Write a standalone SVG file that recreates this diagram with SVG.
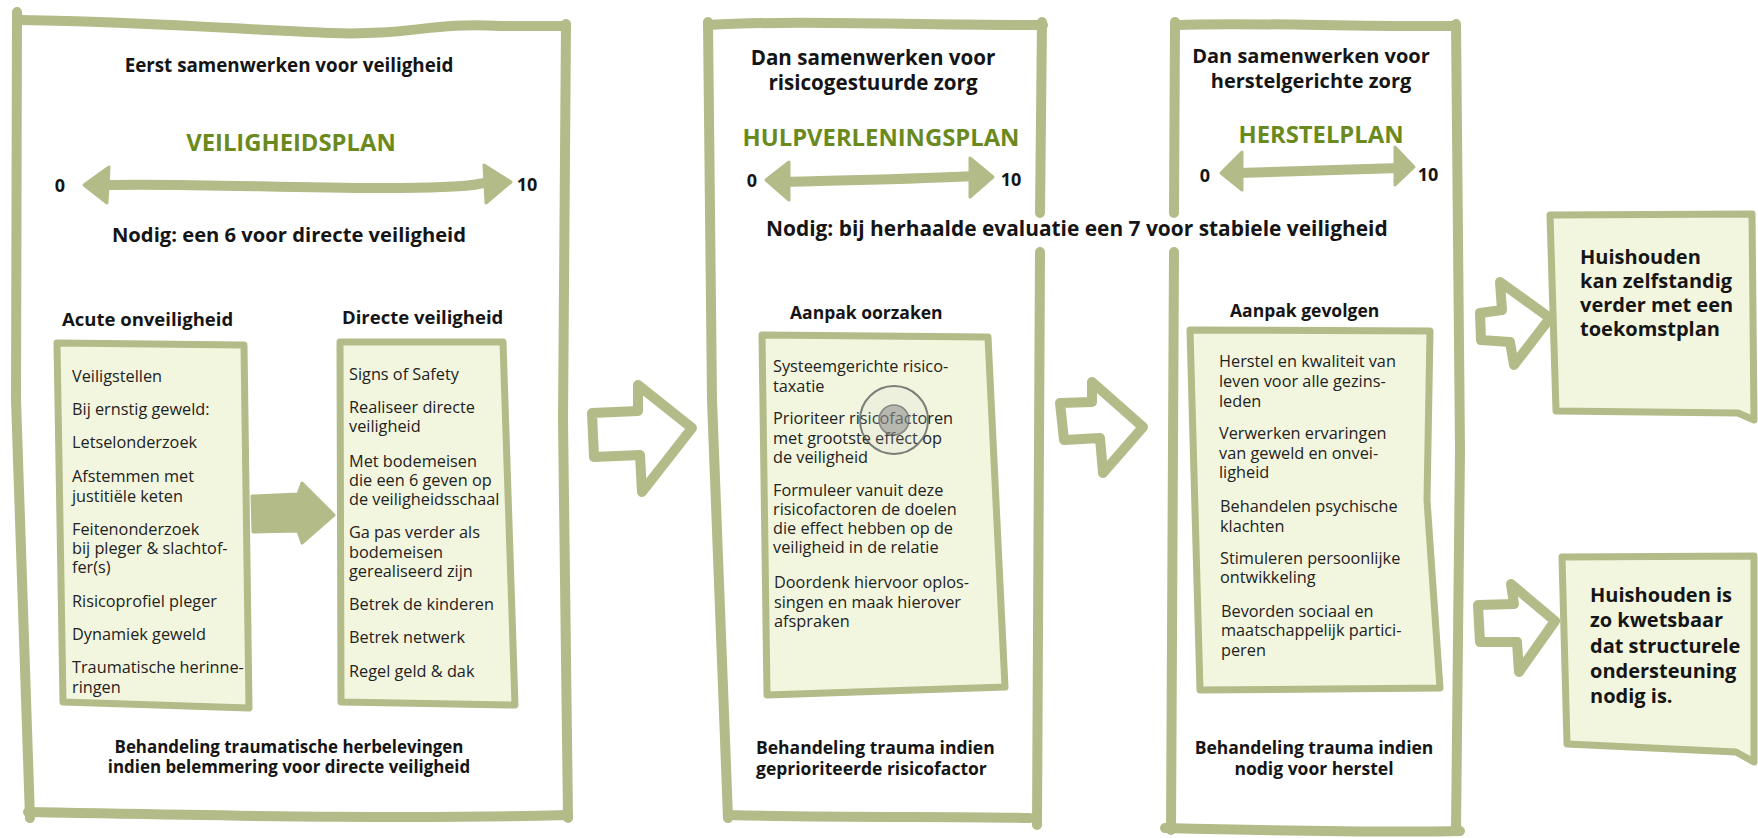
<svg xmlns="http://www.w3.org/2000/svg" width="1758" height="838" viewBox="0 0 1758 838">
<style>
.frame{fill:none;stroke:#b3bb88;stroke-width:10;stroke-linecap:round;stroke-linejoin:round}
.inner{fill:#f3f6de;stroke:#b3bb88;stroke-width:7;stroke-linejoin:round}
.outarrow{fill:#fff;stroke:#b3bb88;stroke-width:10;stroke-linejoin:round}
.fillarrow{fill:#b3bb88;stroke:#b3bb88;stroke-width:3;stroke-linejoin:round}
.dline{fill:none;stroke:#b3bb88;stroke-width:10;stroke-linecap:round}
.dhead{fill:#b3bb88;stroke:#b3bb88;stroke-width:3;stroke-linejoin:round}
text{font-family:"Open Sans","DejaVu Sans",sans-serif;fill:#151515}
.h{font-weight:700;font-size:20px}
.n{font-weight:700;font-size:20.2px}
.sub{font-weight:700;font-size:17.5px}
.sub2{font-weight:700;font-size:18.5px}
.g{font-weight:700;font-size:23.8px;fill:#6a8a1e}
.num{font-weight:700;font-size:18px}
.b{font-size:16.3px;fill:#222}
.rb{font-weight:700;font-size:20px}
.c{text-anchor:middle}
</style>
<rect width="1758" height="838" fill="#fff"/>

<g id="panel-veiligheid">
  <path class="frame" d="M17,12 L16,400 L30,818"/>
  <path class="frame" d="M22,20 C150,22 250,30 330,33 S430,22 500,26 L566,26"/>
  <path class="frame" d="M566,24 L563,420 L568,818"/>
  <path class="frame" d="M28,812 C200,815 400,820 568,815"/>
  <text class="h c" x="289" y="72" style="font-size:18.8px">Eerst samenwerken voor veiligheid</text>
  <text class="g c" x="291" y="151">VEILIGHEIDSPLAN</text>
  <text class="num c" x="60" y="192">0</text>
  <text class="num c" x="527" y="191">10</text>
  <path class="dline" d="M104,185 C200,183 300,189 400,188 S470,182 490,183"/>
  <polygon class="dhead" points="84,185 109,167 107,203"/>
  <polygon class="dhead" points="511,182 484,165 486,203"/>
  <text class="n c" x="289" y="242">Nodig: een 6 voor directe veiligheid</text>
  <text class="sub2" x="62" y="326">Acute onveiligheid</text>
  <text class="sub2" x="342" y="324">Directe veiligheid</text>
  <text class="sub c" x="289" y="753" style="font-size:16.9px">Behandeling traumatische herbelevingen</text>
  <text class="sub c" x="289" y="773" style="font-size:16.9px">indien belemmering voor directe veiligheid</text>
</g>

<g id="acute-onveiligheid">
  <path class="inner" d="M57,343 L244,345 L249,708 L63,702 Z"/>
  <text class="b" x="72" y="382">Veiligstellen</text>
  <text class="b" x="72" y="415">Bij ernstig geweld:</text>
  <text class="b" x="72" y="448">Letselonderzoek</text>
  <text class="b" x="72" y="482">Afstemmen met</text>
  <text class="b" x="72" y="502">justitiële keten</text>
  <text class="b" x="72" y="535">Feitenonderzoek</text>
  <text class="b" x="72" y="554">bij pleger &amp; slachtof-</text>
  <text class="b" x="72" y="573">fer(s)</text>
  <text class="b" x="72" y="607">Risicoprofiel pleger</text>
  <text class="b" x="72" y="640">Dynamiek geweld</text>
  <text class="b" x="72" y="673">Traumatische herinne-</text>
  <text class="b" x="72" y="693">ringen</text>
</g>

<g id="directe-veiligheid">
  <path class="inner" d="M340,342 L503,342 L515,705 L341,702 Z"/>
  <text class="b" x="349" y="380">Signs of Safety</text>
  <text class="b" x="349" y="413">Realiseer directe</text>
  <text class="b" x="349" y="432">veiligheid</text>
  <text class="b" x="349" y="467">Met bodemeisen</text>
  <text class="b" x="349" y="486">die een 6 geven op</text>
  <text class="b" x="349" y="505">de veiligheidsschaal</text>
  <text class="b" x="349" y="538">Ga pas verder als</text>
  <text class="b" x="349" y="558">bodemeisen</text>
  <text class="b" x="349" y="577">gerealiseerd zijn</text>
  <text class="b" x="349" y="610">Betrek de kinderen</text>
  <text class="b" x="349" y="643">Betrek netwerk</text>
  <text class="b" x="349" y="677">Regel geld &amp; dak</text>
</g>

<g id="panel-hulpverlening">
  <path class="frame" d="M708,22 L712,400 L728,818"/>
  <path class="frame" d="M708,25 C800,20 900,25 1043,25"/>
  <path class="frame" d="M1042,22 L1040,213"/>
  <path class="frame" d="M1040,252 L1037,825"/>
  <path class="frame" d="M728,815 C850,818 950,816 1030,818"/>
  <text class="h c" x="873" y="65" style="font-size:20.6px">Dan samenwerken voor</text>
  <text class="h c" x="873" y="90" style="font-size:20.6px">risicogestuurde zorg</text>
  <text class="g c" x="881" y="146">HULPVERLENINGSPLAN</text>
  <text class="num c" x="752" y="187">0</text>
  <text class="num c" x="1011" y="186">10</text>
  <path class="dline" d="M785,182 C850,180 920,179 975,176"/>
  <polygon class="dhead" points="766,180 789,162 789,200"/>
  <polygon class="dhead" points="993,177 970,158 970,197"/>
  <text class="n" x="766" y="236" style="font-size:20.9px">Nodig: bij herhaalde evaluatie een 7 voor stabiele veiligheid</text>
  <text class="sub" x="790" y="319">Aanpak oorzaken</text>
  <text class="sub" x="756" y="754">Behandeling trauma indien</text>
  <text class="sub" x="756" y="775">geprioriteerde risicofactor</text>
</g>

<g id="aanpak-oorzaken">
  <path class="inner" d="M762,335 L988,337 L1005,687 L767,695 Z"/>
  <text class="b" x="773" y="372">Systeemgerichte risico-</text>
  <text class="b" x="773" y="392">taxatie</text>
  <text class="b" x="773" y="424">Prioriteer risicofactoren</text>
  <text class="b" x="773" y="444">met grootste effect op</text>
  <text class="b" x="773" y="463">de veiligheid</text>
  <text class="b" x="773" y="496">Formuleer vanuit deze</text>
  <text class="b" x="773" y="515">risicofactoren de doelen</text>
  <text class="b" x="773" y="534">die effect hebben op de</text>
  <text class="b" x="773" y="553">veiligheid in de relatie</text>
  <text class="b" x="774" y="588">Doordenk hiervoor oplos-</text>
  <text class="b" x="774" y="608">singen en maak hierover</text>
  <text class="b" x="774" y="627">afspraken</text>
</g>

<g id="cursor-highlight">
  <circle cx="894" cy="420" r="34" fill="#cfcfcf" fill-opacity="0.15" stroke="#555" stroke-opacity="0.75" stroke-width="2"/>
  <circle cx="894" cy="420" r="15" fill="#8a8a8a" fill-opacity="0.55" stroke="#666" stroke-opacity="0.7" stroke-width="1.5"/>
</g>

<g id="panel-herstel">
  <path class="frame" d="M1175,22 L1174,213"/>
  <path class="frame" d="M1174,252 L1171,830"/>
  <path class="frame" d="M1175,25 C1250,22 1350,27 1456,26"/>
  <path class="frame" d="M1456,24 L1460,450 L1456,830"/>
  <path class="frame" d="M1165,828 C1250,830 1380,833 1460,831"/>
  <text class="h c" x="1311" y="63">Dan samenwerken voor</text>
  <text class="h c" x="1311" y="88">herstelgerichte zorg</text>
  <text class="g c" x="1321" y="143">HERSTELPLAN</text>
  <text class="num c" x="1205" y="182">0</text>
  <text class="num c" x="1428" y="181">10</text>
  <path class="dline" d="M1238,173 C1300,171 1350,170 1400,168"/>
  <polygon class="dhead" points="1221,173 1242,152 1242,190"/>
  <polygon class="dhead" points="1414,167 1395,147 1395,185"/>
  <text class="sub" x="1230" y="317">Aanpak gevolgen</text>
  <text class="sub c" x="1314" y="754">Behandeling trauma indien</text>
  <text class="sub c" x="1314" y="775">nodig voor herstel</text>
</g>

<g id="aanpak-gevolgen">
  <path class="inner" d="M1190,330 L1430,331 L1427,500 L1440,688 L1200,690 Z"/>
  <text class="b" x="1219" y="367">Herstel en kwaliteit van</text>
  <text class="b" x="1219" y="387">leven voor alle gezins-</text>
  <text class="b" x="1219" y="407">leden</text>
  <text class="b" x="1219" y="439">Verwerken ervaringen</text>
  <text class="b" x="1219" y="459">van geweld en onvei-</text>
  <text class="b" x="1219" y="478">ligheid</text>
  <text class="b" x="1220" y="512">Behandelen psychische</text>
  <text class="b" x="1220" y="532">klachten</text>
  <text class="b" x="1220" y="564">Stimuleren persoonlijke</text>
  <text class="b" x="1220" y="583">ontwikkeling</text>
  <text class="b" x="1221" y="617">Bevorden sociaal en</text>
  <text class="b" x="1221" y="636">maatschappelijk partici-</text>
  <text class="b" x="1221" y="656">peren</text>
</g>

<g id="toekomstplan">
  <path class="inner" d="M1550,215 L1752,214 L1754,420 L1738,413 L1556,411 Z"/>
  <text class="rb" x="1580" y="264">Huishouden</text>
  <text class="rb" x="1580" y="288">kan zelfstandig</text>
  <text class="rb" x="1580" y="312">verder met een</text>
  <text class="rb" x="1580" y="336">toekomstplan</text>
</g>

<g id="structurele-ondersteuning">
  <path class="inner" d="M1562,557 L1754,556 L1754,762 L1736,752 L1567,744 Z"/>
  <text class="rb" x="1590" y="602">Huishouden is</text>
  <text class="rb" x="1590" y="627">zo kwetsbaar</text>
  <text class="rb" x="1590" y="653">dat structurele</text>
  <text class="rb" x="1590" y="678">ondersteuning</text>
  <text class="rb" x="1590" y="703">nodig is.</text>
</g>

<g id="connectors">
  <polygon class="fillarrow" points="252,496 298,494 302,483 334,515 302,543 298,531 253,532"/>
  <polygon class="outarrow" points="592,413 638,411 638,385 692,428 642,492 640,455 594,457"/>
  <polygon class="outarrow" points="1060,403 1092,402 1092,382 1143,427 1103,473 1100,438 1064,440"/>
  <polygon class="outarrow" points="1480,313 1502,310 1500,282 1550,318 1514,365 1510,342 1481,340"/>
  <polygon class="outarrow" points="1478,605 1514,604 1511,584 1555,621 1519,672 1517,642 1480,642"/>
</g>
</svg>
